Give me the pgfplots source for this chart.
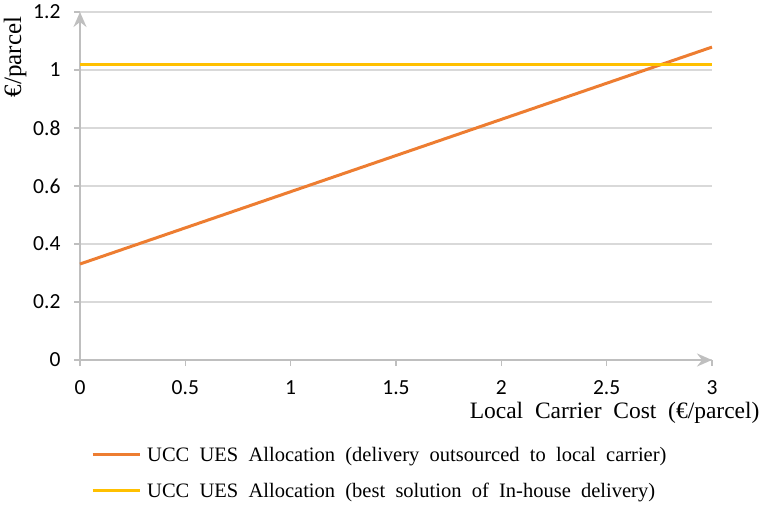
\documentclass[border=0pt]{standalone}
\usepackage{fontspec}
\setmainfont{Liberation Serif}
\newfontfamily\carlito{Carlito}
\usepackage{pgfplots}
\pgfplotsset{compat=1.18}
\usetikzlibrary{arrows.meta}

\definecolor{xlorange}{HTML}{ED7D31}
\definecolor{xlyellow}{HTML}{FFC000}
\definecolor{xlgrid}{HTML}{D9D9D9}
\definecolor{xlaxis}{HTML}{BFBFBF}

\begin{document}
\begin{tikzpicture}
  \useasboundingbox (0,0) rectangle (767pt,505pt);
  \begin{axis}[
      at={(80pt,145pt)}, anchor=south west,
      scale only axis,
      width=632pt, height=348pt,
      xmin=0, xmax=3,
      ymin=0, ymax=1.2,
      xtick={0,0.5,...,3},
      ytick={0,0.2,...,1.2},
      axis lines*=left,
      axis line style={draw=none},
      tick style={draw=xlaxis, line width=1.5pt},
      tick align=outside,
      major tick length=6pt,
      ymajorgrids=true,
      grid style={draw=xlgrid, line width=1.5pt},
      ticklabel style={font=\carlito\fontsize{21.5}{21.5}\selectfont},
      xticklabel style={yshift=-11pt},
      yticklabel style={xshift=-10pt},
      /pgf/number format/assume math mode=true,
      xlabel={Local\ \ Carrier\ \ Cost\ \ (€/parcel)},
      xlabel style={font=\fontsize{23.5}{23.5}\selectfont,
        at={(axis description cs:1.0807,-0.152)}, anchor=east},
      ylabel={€/parcel},
      ylabel style={font=\fontsize{25}{25}\selectfont,
        at={(axis description cs:-0.1028,0.997)}, anchor=east},
      legend style={draw=none, fill=none,
        font=\fontsize{20.5}{20.5}\selectfont,
        at={(axis description cs:0.0127,-0.238)}, anchor=north west,
        row sep=16pt},
      legend cell align=left,
      legend image code/.code={\draw[#1, line width=3pt] (0pt,0pt) -- (47pt,0pt);},
      clip=false,
    ]
    % axis lines with Excel-like arrow heads
    \draw[xlaxis, line width=2pt, -{Stealth[length=15pt,width=13pt,inset=5pt]}]
      (rel axis cs:0,0) -- (rel axis cs:1,0);
    \draw[xlaxis, line width=2pt, -{Stealth[length=15pt,width=13pt,inset=5pt]}]
      (rel axis cs:0,0) -- (rel axis cs:0,1);
    \addplot[xlorange, line width=3pt] coordinates {(0,0.331) (3,1.079)};
    \addlegendentry{\hspace{4pt}UCC\ \ UES\ \ Allocation\ \ (delivery\ \ outsourced\ \ to\ \ local\ \ carrier)}
    \addplot[xlyellow, line width=3pt] coordinates {(0,1.02) (3,1.02)};
    \addlegendentry{\hspace{4pt}UCC\ \ UES\ \ Allocation\ \ (best\ \ solution\ \ of\ \ In-house\ \ delivery)}
  \end{axis}
\end{tikzpicture}
\end{document}
